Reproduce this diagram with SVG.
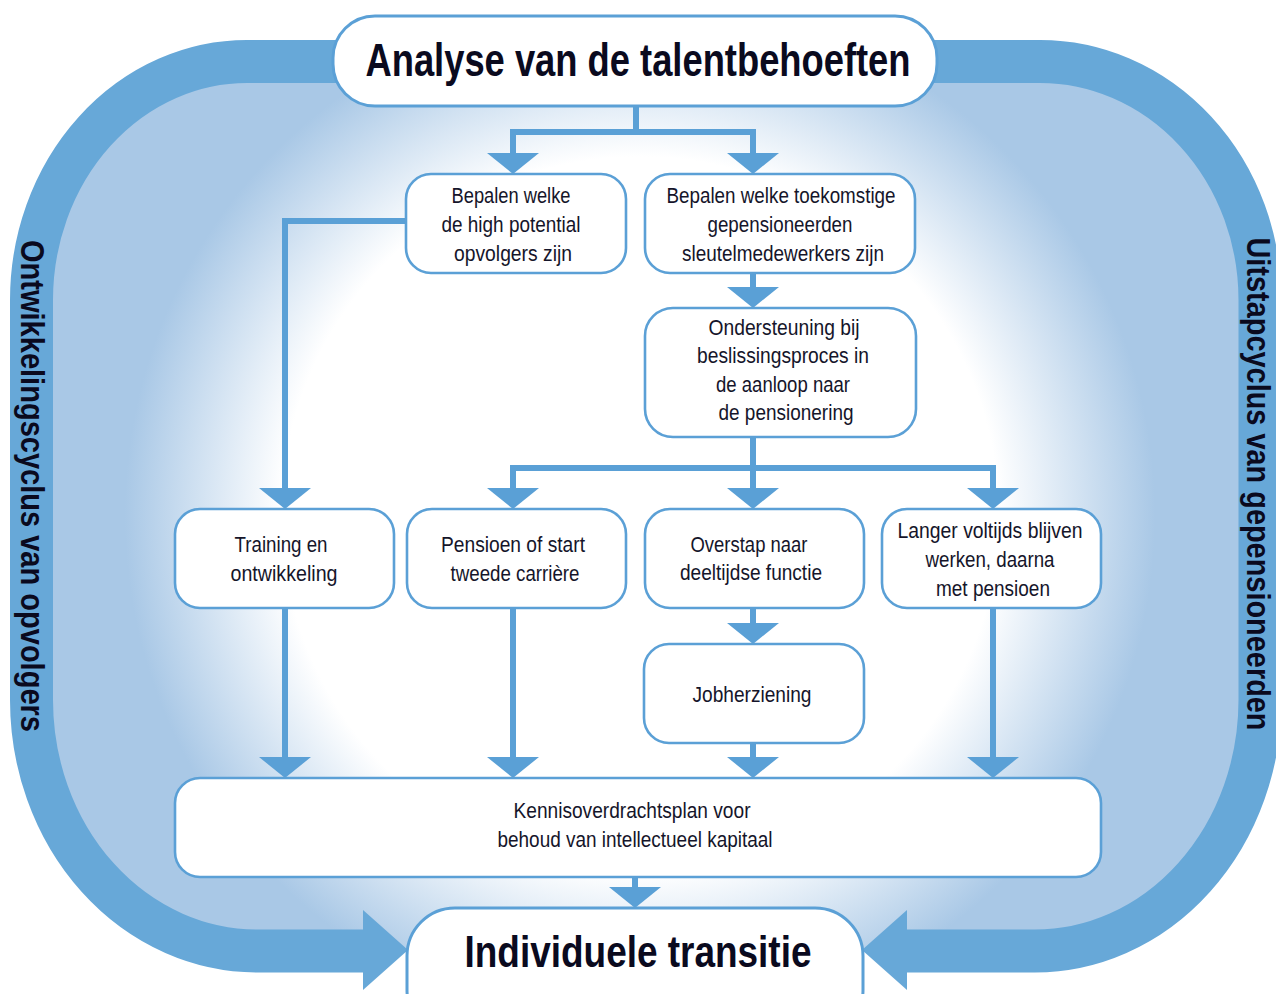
<svg xmlns="http://www.w3.org/2000/svg" xmlns:xlink="http://www.w3.org/1999/xlink" width="1276" height="994" viewBox="0 0 1276 994">
<style>
.box{fill:#fff;stroke:#5ba0d6;stroke-width:2.6}
.big{fill:#fff;stroke:#5ba0d6;stroke-width:3}
.t{font-family:"Liberation Sans",Arial,sans-serif;font-size:21.5px;fill:#15152a;text-anchor:middle}
.h{font-family:"Liberation Sans",Arial,sans-serif;font-weight:bold;fill:#0a0a1e;text-anchor:middle}
.side{font-family:"Liberation Sans",Arial,sans-serif;font-weight:bold;font-size:34px;fill:#0a0a1e;text-anchor:middle}
.ln{fill:none;stroke:#5aa0d6;stroke-width:6;stroke-linejoin:miter}
.ah{fill:#5aa0d6}
</style>
<defs>
<radialGradient id="bg" gradientUnits="userSpaceOnUse" cx="640" cy="515" r="560">
<stop offset="0" stop-color="#ffffff"/>
<stop offset="0.64" stop-color="#ffffff"/>
<stop offset="0.92" stop-color="#a9c8e6"/>
<stop offset="1" stop-color="#a9c8e6"/>
</radialGradient>
<path id="ah" d="M-26,-21 L26,-21 L0,0 Z"/>
</defs>
<rect width="1276" height="994" fill="#fff"/>
<g id="cycle">
<path d="M363,951 L257,951 A225.5 251 0 0 1 31.5,700 L31.5,300 A215.5 238.5 0 0 1 247,61.5 L1040,61.5 A220 238.5 0 0 1 1260,300 L1260,700 A225 251 0 0 1 1035,951 L907,951 Z" fill="url(#bg)"/>
<path d="M363,951 L257,951 A225.5 251 0 0 1 31.5,700 L31.5,300 A215.5 238.5 0 0 1 247,61.5 L1040,61.5 A220 238.5 0 0 1 1260,300 L1260,700 A225 251 0 0 1 1035,951 L907,951" fill="none" stroke="#67a8d8" stroke-width="43"/>
<polygon points="363,910 408,950 363,990" fill="#67a8d8"/>
<polygon points="907,910 862,950 907,990" fill="#67a8d8"/>
<text class="side" transform="translate(21,486) rotate(90)" textLength="492" lengthAdjust="spacingAndGlyphs">Ontwikkelingscyclus van opvolgers</text>
<text class="side" transform="translate(1247,484) rotate(90)" textLength="493" lengthAdjust="spacingAndGlyphs">Uitstapcyclus van gepensioneerden</text>
</g>
<g id="connectors">
<path class="ln" d="M636,106 V132"/>
<path class="ln" d="M513,153 V132 H753 V153"/>
<path class="ln" d="M406,221 H285 V489"/>
<path class="ln" d="M753,273 V288"/>
<path class="ln" d="M753,437 V489"/>
<path class="ln" d="M513,489 V468 H993 V489"/>
<path class="ln" d="M753,608 V624"/>
<path class="ln" d="M285,608 V758"/>
<path class="ln" d="M513,608 V758"/>
<path class="ln" d="M753,743 V758"/>
<path class="ln" d="M993,608 V758"/>
<path class="ln" d="M635,877 V888"/>
<use class="ah" xlink:href="#ah" x="513" y="174"/>
<use class="ah" xlink:href="#ah" x="753" y="174"/>
<use class="ah" xlink:href="#ah" x="285" y="509"/>
<use class="ah" xlink:href="#ah" x="753" y="308"/>
<use class="ah" xlink:href="#ah" x="513" y="509"/>
<use class="ah" xlink:href="#ah" x="753" y="509"/>
<use class="ah" xlink:href="#ah" x="993" y="509"/>
<use class="ah" xlink:href="#ah" x="753" y="644"/>
<use class="ah" xlink:href="#ah" x="285" y="778"/>
<use class="ah" xlink:href="#ah" x="513" y="778"/>
<use class="ah" xlink:href="#ah" x="753" y="778"/>
<use class="ah" xlink:href="#ah" x="993" y="778"/>
<use class="ah" xlink:href="#ah" x="635" y="908"/>
</g>
<g id="title">
<rect class="big" x="333" y="16" width="604" height="90" rx="42"/>
<text class="h" x="638" y="76" font-size="46" textLength="545" lengthAdjust="spacingAndGlyphs">Analyse van de talentbehoeften</text>
</g>
<g id="hipo">
<rect class="box" x="406" y="174" width="220" height="99" rx="25"/>
<text class="t" x="511" y="203" textLength="119" lengthAdjust="spacingAndGlyphs">Bepalen welke</text>
<text class="t" x="511" y="232" textLength="139" lengthAdjust="spacingAndGlyphs">de high potential</text>
<text class="t" x="513" y="261" textLength="118" lengthAdjust="spacingAndGlyphs">opvolgers zijn</text>
</g>
<g id="keyworkers">
<rect class="box" x="645" y="174" width="270" height="99" rx="25"/>
<text class="t" x="781" y="203" textLength="229" lengthAdjust="spacingAndGlyphs">Bepalen welke toekomstige</text>
<text class="t" x="780" y="232" textLength="145" lengthAdjust="spacingAndGlyphs">gepensioneerden</text>
<text class="t" x="783" y="261" textLength="202" lengthAdjust="spacingAndGlyphs">sleutelmedewerkers zijn</text>
</g>
<g id="support">
<rect class="box" x="645" y="308" width="271" height="129" rx="28"/>
<text class="t" x="784" y="335" textLength="151" lengthAdjust="spacingAndGlyphs">Ondersteuning bij</text>
<text class="t" x="783" y="363" textLength="172" lengthAdjust="spacingAndGlyphs">beslissingsproces in</text>
<text class="t" x="783" y="392" textLength="134" lengthAdjust="spacingAndGlyphs">de aanloop naar</text>
<text class="t" x="786" y="420" textLength="135" lengthAdjust="spacingAndGlyphs">de pensionering</text>
</g>
<g id="training">
<rect class="box" x="175" y="509" width="219" height="99" rx="25"/>
<text class="t" x="281" y="552" textLength="93" lengthAdjust="spacingAndGlyphs">Training en</text>
<text class="t" x="284" y="581" textLength="107" lengthAdjust="spacingAndGlyphs">ontwikkeling</text>
</g>
<g id="pensioen">
<rect class="box" x="407" y="509" width="219" height="99" rx="25"/>
<text class="t" x="513" y="552" textLength="144" lengthAdjust="spacingAndGlyphs">Pensioen of start</text>
<text class="t" x="515" y="581" textLength="129" lengthAdjust="spacingAndGlyphs">tweede carrière</text>
</g>
<g id="overstap">
<rect class="box" x="645" y="509" width="219" height="99" rx="25"/>
<text class="t" x="749" y="552" textLength="117" lengthAdjust="spacingAndGlyphs">Overstap naar</text>
<text class="t" x="751" y="580" textLength="142" lengthAdjust="spacingAndGlyphs">deeltijdse functie</text>
</g>
<g id="langer">
<rect class="box" x="882" y="509" width="219" height="99" rx="25"/>
<text class="t" x="990" y="538" textLength="185" lengthAdjust="spacingAndGlyphs">Langer voltijds blijven</text>
<text class="t" x="990" y="567" textLength="129" lengthAdjust="spacingAndGlyphs">werken, daarna</text>
<text class="t" x="993" y="596" textLength="114" lengthAdjust="spacingAndGlyphs">met pensioen</text>
</g>
<g id="jobherziening">
<rect class="box" x="644" y="644" width="220" height="99" rx="25"/>
<text class="t" x="752" y="702" textLength="119" lengthAdjust="spacingAndGlyphs">Jobherziening</text>
</g>
<g id="kennis">
<rect class="box" x="175" y="778" width="926" height="99" rx="25"/>
<text class="t" x="632" y="818" textLength="237" lengthAdjust="spacingAndGlyphs">Kennisoverdrachtsplan voor</text>
<text class="t" x="635" y="847" textLength="275" lengthAdjust="spacingAndGlyphs">behoud van intellectueel kapitaal</text>
</g>
<g id="transitie">
<rect class="big" x="407" y="908" width="456" height="130" rx="48"/>
<text class="h" x="638" y="967" font-size="44" textLength="347" lengthAdjust="spacingAndGlyphs">Individuele transitie</text>
</g>
</svg>
